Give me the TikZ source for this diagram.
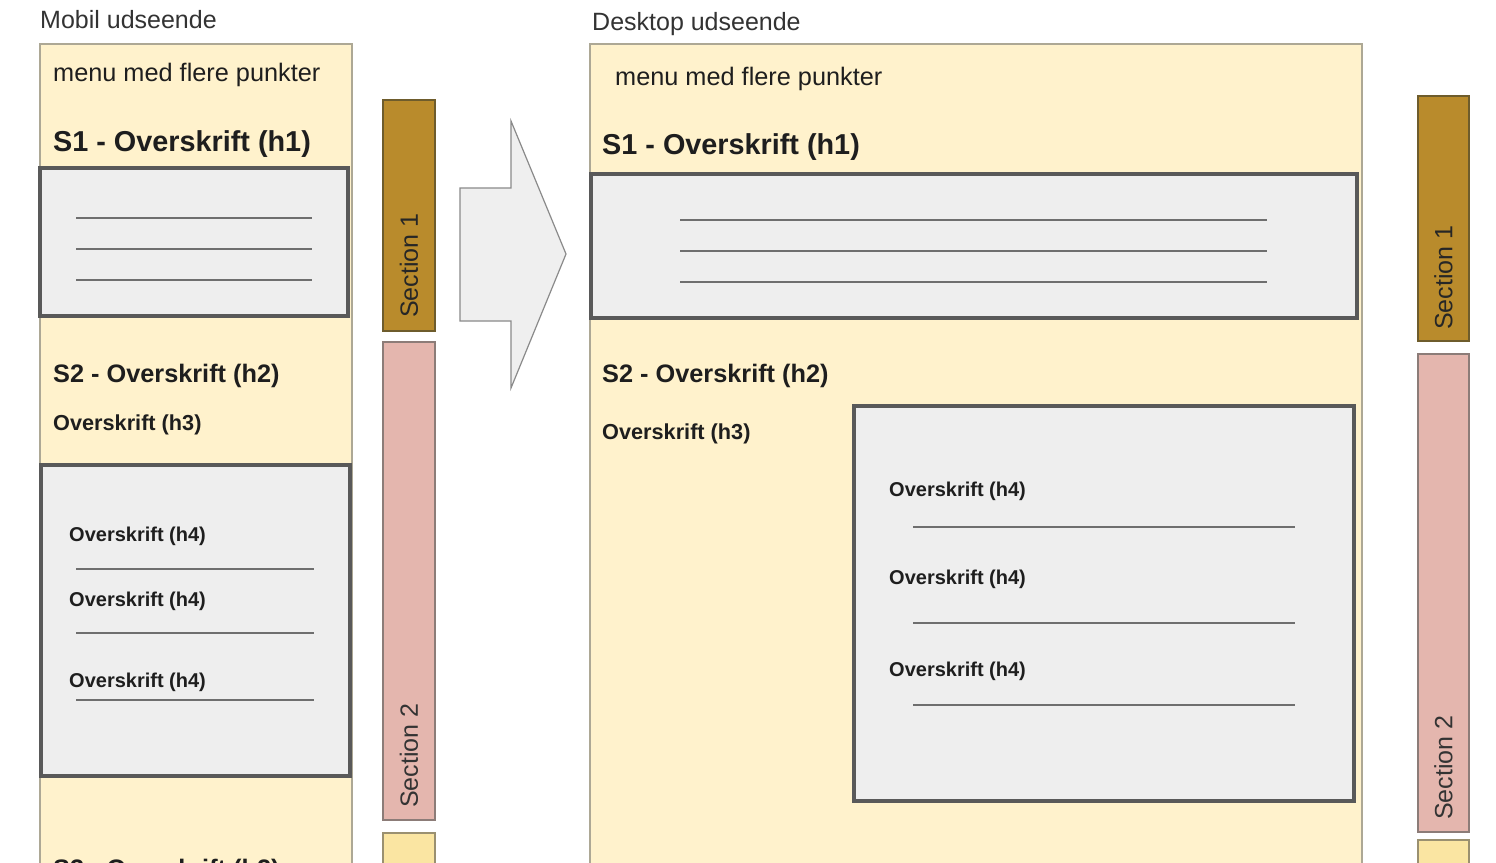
\documentclass[tikz,border=0pt]{standalone}
\usepackage{fontspec}
\setmainfont{Liberation Sans}
\definecolor{cream}{HTML}{FFF2CC}
\definecolor{panelborder}{HTML}{ADA895}
\definecolor{boxgray}{HTML}{EEEEEE}
\definecolor{boxborder}{HTML}{595959}
\definecolor{rulegray}{HTML}{6E6E6E}
\definecolor{secone}{HTML}{B98B2C}
\definecolor{seconeborder}{HTML}{6E5C2C}
\definecolor{sectwo}{HTML}{E4B6AE}
\definecolor{sectwoborder}{HTML}{8C7C78}
\definecolor{secthree}{HTML}{FAE5A2}
\definecolor{secthreeborder}{HTML}{9A9070}
\definecolor{txt}{HTML}{1E1E1E}
\definecolor{arrowfill}{HTML}{EFEFEF}
\definecolor{arrowborder}{HTML}{8A8A8A}
\begin{document}
\begin{tikzpicture}[x=1pt,y=-1pt,
  panel/.style={fill=cream, draw=panelborder, line width=1.5},
  graybox/.style={fill=boxgray, draw=boxborder, line width=4},
  rulestyle/.style={draw=rulegray, line width=1.6},
  lbl/.style={anchor=base west, inner sep=0, text=txt},
  titlefont/.style={lbl, text=black!80, font=\fontsize{25}{30}\selectfont},
  menufont/.style={lbl, font=\fontsize{25.3}{30}\selectfont},
  hone/.style={lbl, font=\fontsize{28.8}{34}\selectfont\bfseries},
  htwo/.style={lbl, font=\fontsize{25.3}{30}\selectfont\bfseries},
  hthree/.style={lbl, font=\fontsize{21.7}{26}\selectfont\bfseries},
  hfour/.style={lbl, font=\fontsize{20}{24}\selectfont\bfseries},
  secbar/.style={line width=1.5},
  sectext/.style={rotate=90, anchor=west, inner sep=0, font=\fontsize{25}{30}\selectfont},
  arrowshape/.style={fill=arrowfill, draw=arrowborder, line width=1.2, line join=miter}]
\useasboundingbox (0,0) rectangle (1496,862);
\clip (0,0) rectangle (1496,862);
\fill[white] (0,0) rectangle (1496,862);

% ---------- Mobile ----------
\node[titlefont] (mtitle) at (40,28) {Mobil udseende};
\draw[panel] (40,44) rectangle (352,880);
\node[menufont] (mmenu) at (53,81) {menu med flere punkter};
\node[hone] (mh1) at (53,151) {S1 - Overskrift (h1)};
\draw[graybox] (40,168) rectangle (348,316);
\coordinate (ma1) at (76,218); \coordinate (mb1) at (312,218);
\coordinate (ma2) at (76,249); \coordinate (mb2) at (312,249);
\coordinate (ma3) at (76,280); \coordinate (mb3) at (312,280);
\draw[rulestyle] (ma1) -- (mb1);
\draw[rulestyle] (ma2) -- (mb2);
\draw[rulestyle] (ma3) -- (mb3);
\node[htwo] (mh2) at (53,382) {S2 - Overskrift (h2)};
\node[hthree] (mh3) at (53,430) {Overskrift (h3)};
\draw[graybox] (41,465) rectangle (350,776);
\node[hfour] (mh4a) at (69,541) {Overskrift (h4)};
\node[hfour] (mh4b) at (69,606) {Overskrift (h4)};
\node[hfour] (mh4c) at (69,687) {Overskrift (h4)};
\coordinate (mc1) at (76,569); \coordinate (md1) at (314,569);
\coordinate (mc2) at (76,633); \coordinate (md2) at (314,633);
\coordinate (mc3) at (76,700); \coordinate (md3) at (314,700);
\draw[rulestyle] (mc1) -- (md1);
\draw[rulestyle] (mc2) -- (md2);
\draw[rulestyle] (mc3) -- (md3);
\node[htwo] (mh2b) at (53,877) {S3 - Overskrift (h2)};

% mobile section bars
\draw[secbar, fill=secone, draw=seconeborder] (383,100) rectangle (435,331);
\node[sectext, text=black!85] (ms1) at (409,318) {Section 1};
\draw[secbar, fill=sectwo, draw=sectwoborder] (383,342) rectangle (435,820);
\node[sectext, text=black!80] (ms2) at (409,808) {Section 2};
\draw[secbar, fill=secthree, draw=secthreeborder] (383,833) rectangle (435,880);

% ---------- Arrow ----------
\draw[arrowshape] (460,188) -- (511,188) -- (511,121) -- (566,254) -- (511,388) -- (511,321) -- (460,321) -- cycle;

% ---------- Desktop ----------
\node[titlefont] (dtitle) at (592,30) {Desktop udseende};
\draw[panel] (590,44) rectangle (1362,880);
\node[menufont] (dmenu) at (615,85) {menu med flere punkter};
\node[hone] (dh1) at (602,154) {S1 - Overskrift (h1)};
\draw[graybox] (591,174) rectangle (1357,318);
\coordinate (da1) at (680,220); \coordinate (db1) at (1267,220);
\coordinate (da2) at (680,251); \coordinate (db2) at (1267,251);
\coordinate (da3) at (680,282); \coordinate (db3) at (1267,282);
\draw[rulestyle] (da1) -- (db1);
\draw[rulestyle] (da2) -- (db2);
\draw[rulestyle] (da3) -- (db3);
\node[htwo] (dh2) at (602,382) {S2 - Overskrift (h2)};
\node[hthree] (dh3) at (602,439) {Overskrift (h3)};
\draw[graybox] (854,406) rectangle (1354,801);
\node[hfour] (dh4a) at (889,496) {Overskrift (h4)};
\node[hfour] (dh4b) at (889,584) {Overskrift (h4)};
\node[hfour] (dh4c) at (889,676) {Overskrift (h4)};
\coordinate (dc1) at (913,527); \coordinate (dd1) at (1295,527);
\coordinate (dc2) at (913,623); \coordinate (dd2) at (1295,623);
\coordinate (dc3) at (913,705); \coordinate (dd3) at (1295,705);
\draw[rulestyle] (dc1) -- (dd1);
\draw[rulestyle] (dc2) -- (dd2);
\draw[rulestyle] (dc3) -- (dd3);

% desktop section bars
\draw[secbar, fill=secone, draw=seconeborder] (1418,96) rectangle (1469,341);
\node[sectext, text=black!85] (ds1) at (1443.5,330) {Section 1};
\draw[secbar, fill=sectwo, draw=sectwoborder] (1418,354) rectangle (1469,832);
\node[sectext, text=black!80] (ds2) at (1443.5,820) {Section 2};
\draw[secbar, fill=secthree, draw=secthreeborder] (1418,840) rectangle (1469,880);
\end{tikzpicture}
\end{document}
